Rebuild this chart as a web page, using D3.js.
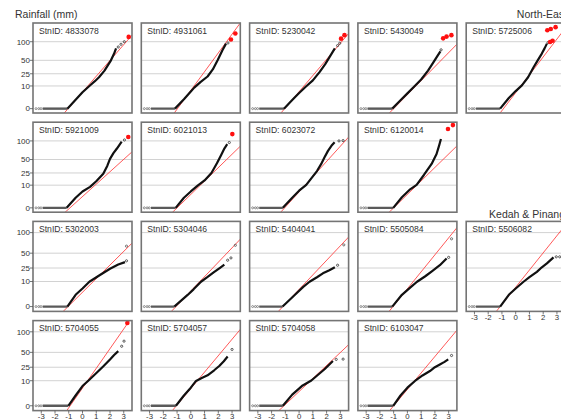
<!DOCTYPE html>
<html>
<head>
<meta charset="utf-8">
<script src="https://cdn.jsdelivr.net/npm/d3@7"></script>
<style>
body { margin: 0; background: #fff; }
text { font-family: "Liberation Sans", Arial, sans-serif; }
</style>
</head>
<body>
<svg id="chart" width="561" height="419"></svg>
<script>
// stations, one lattice per region
var neStations = ["4833078", "4931061", "5230042", "5430049", "5725006", "5921009", "6021013", "6023072", "6120014"];
var kpStations = ["5302003", "5304046", "5404041", "5505084", "5506082", "5704055", "5704057", "5704058", "6103047"];

var yTicks = [0, 10, 25, 50, 100];
var xTicks = [-3, -2, -1, 0, 1, 2, 3];

// theoretical quantile where the run of dry days (0 mm) stops
var neDryEnd = [-1.1, -1.15, -1.1, -1.1, -1.13, -1.15, -1.1, -1.18, -1.03];
var kpDryEnd = [-1.1, -1.2, -1.2, -1.1, -1.13, -1.03, -1.08, -1.18, -1.03];

// [theoretical quantile, rainfall mm]
var neQQ = [
  [[-1.1,0],[-0.6,0.9],[0,5],[0.5,10],[0.9,15],[1.2,20],[1.6,30],[2.07,50],[2.3,66],[2.44,80]],
  [[-1.15,0],[-0.5,1.5],[0,5.5],[0.25,8.5],[0.7,14],[1.22,21],[1.6,32],[1.95,50],[2.3,75],[2.56,94]],
  [[-1.1,0],[-0.5,1.3],[0,4.5],[0.5,9.5],[1.0,16],[1.5,28],[1.9,42],[2.3,62],[2.6,80]],
  [[-1.1,0],[-0.5,1.2],[0,4.3],[0.5,9.5],[1.0,17],[1.5,30],[1.9,46],[2.2,61],[2.4,72]],
  [[-1.13,0],[-0.5,2],[0,5.8],[0.45,10.6],[0.9,20],[1.3,36],[1.6,50],[1.9,66],[2.1,80],[2.27,94]],
  [[-1.15,0],[-0.5,1.8],[0,5],[0.55,8.5],[1.0,14],[1.51,23.8],[1.8,37],[2.0,51.6],[2.25,65],[2.49,76.7],[2.85,98]],
  [[-1.1,0],[-0.5,1.8],[0,5],[0.5,9.5],[1.0,15],[1.5,25],[1.9,42],[2.2,60],[2.45,78],[2.65,90]],
  [[-1.18,0],[-0.5,1.8],[0,5.5],[0.52,10.2],[1.0,20],[1.3,28],[1.61,40.8],[1.85,55],[2.1,71],[2.35,85],[2.58,96]],
  [[-1.03,0],[-0.4,2],[0.2,6.5],[0.67,10.2],[1.2,22],[1.76,40.8],[2.12,63],[2.3,85],[2.44,106]]
];
var kpQQ = [
  [[-1.1,0],[-0.5,2],[0,5],[0.5,9.8],[1.27,16.3],[2.0,24],[2.6,30],[3.09,33.8]],
  [[-1.2,0],[-0.23,1.95],[0.2,4.5],[0.74,9.8],[1.2,14],[1.71,20],[2.1,25],[2.44,30]],
  [[-1.2,0],[-0.3,2],[0.3,6],[0.76,9.8],[1.3,14],[1.73,18.2],[2.2,22],[2.6,26]],
  [[-1.1,0],[-0.4,2],[0.2,5.5],[0.7,9.8],[1.3,15],[1.8,21],[2.36,29],[2.85,40]],
  [[-1.13,0],[-0.5,2],[0,5],[0.57,9.8],[1.0,14],[1.54,20],[1.9,26],[2.27,31.8],[2.75,41.9]],
  [[-1.03,0],[-0.5,1.5],[0,6],[0.4,9.8],[1.03,18],[1.5,26],[2.0,37],[2.3,45],[2.6,52.6]],
  [[-1.08,0],[-0.5,1.5],[0,5],[0.38,9.8],[0.8,12.5],[1.22,15.2],[1.7,21],[2.07,26.7],[2.4,34],[2.68,42]],
  [[-1.18,0],[-0.5,1.8],[0.2,6],[0.89,10.2],[1.4,16],[1.85,22.3],[2.2,29],[2.46,34.4]],
  [[-1.03,0],[-0.5,1.5],[0,5],[0.55,9.8],[1.1,15],[1.64,20],[2.0,25],[2.36,29],[2.7,33],[2.97,37.2]]
];

// loose points at the upper end
var neTail = [[[2.6,84],[2.8,92],[3.04,100]], [[2.7,96]], [[2.8,88],[2.95,95]], [[2.45,76]], [[2.35,97]],
              [[3.05,103]], [[2.8,95]], [[2.9,100],[3.2,101]], []];
var kpTail = [[[3.2,36]], [[2.68,37],[2.92,41]], [[2.8,29]], [[3.0,42]], [[2.95,43],[3.2,43]],
              [[2.85,63],[3.02,75]], [[3.0,56]], [[2.7,37],[3.2,37.5]], [[3.21,44]]];
// small marks sitting on the reference line
var kpMark = [[3.2,65], [3.24,67], [3.25,68], [3.21,83], null, null, null, null, null];

// extremes in red
var neRed = [[[3.36,116]], [[2.92,107],[3.24,128]], [[3.05,110],[3.3,122]], [[2.6,111],[2.85,117],[3.2,122]],
             [[2.3,140],[2.55,145],[2.9,152],[2.5,99],[2.68,103]], [[3.33,113]], [[3.02,123]], [], [[2.95,142],[3.31,157]]];
var kpRed = [[], [], [], [], [], [[3.26,127]], [], [], []];

// reference line: [quantile at 0 mm, quantile at end, mm at end]
var neLine = [[-1.05,3.6,122], [-0.97,3.48,160], [-1.05,3.55,125], [-1.0,3.55,90], [-0.89,3.31,128],
              [-0.91,3.65,70], [-1.0,3.55,82], [-1.05,3.43,104], [-1.0,3.53,82]];
var kpLine = [[-1.05,3.6,72], [-1.08,3.48,77.6], [-1.18,3.4,80], [-1.05,3.33,101], [-1.13,3.31,106.6],
              [-0.9,3.3,127], [-1.05,3.4,97.5], [-1.1,3.48,63], [-1.0,3.45,97.5]];

var neYMax = 169, kpYMax = 135, yMin = -0.3;

var svg = d3.select("#chart");
var left0 = 33, top0 = 23, colStep = 108.3, rowStep = 99.2;
var pw = 99, ph = 90;
var clipId = 0;

var xScale = d3.scaleLinear().domain([-3.6, 3.6]).range([0, pw]);

function drawPanel(id, row, col, qq, tail, red, mark, line, dryEnd, yMax, showY, showX) {
  var yScale = d3.scalePow().exponent(0.47).domain([yMin, yMax]).range([ph, 0]);
  var g = svg.append("g")
    .attr("transform", "translate(" + (left0 + col * colStep) + "," + (top0 + row * rowStep) + ")");

  clipId++;
  g.append("clipPath").attr("id", "c" + clipId)
    .append("rect").attr("width", pw).attr("height", ph);

  g.append("rect").attr("width", pw).attr("height", ph).attr("fill", "#fff");

  g.selectAll(".grid")
    .data(yTicks.filter(function(d) { return d > 0; }))
    .enter().append("line")
    .attr("x1", 0).attr("x2", pw)
    .attr("y1", function(d) { return yScale(d); })
    .attr("y2", function(d) { return yScale(d); })
    .attr("stroke", "#d2d2d2").attr("stroke-width", 1);

  var plot = g.append("g").attr("clip-path", "url(#c" + clipId + ")");

  // reference line, stretched across the panel
  var p0 = [xScale(line[0]), yScale(0)];
  var p1 = [xScale(line[1]), yScale(line[2])];
  var dx = p1[0] - p0[0], dy = p1[1] - p0[1];
  plot.append("line")
    .attr("x1", p0[0] - 0.3 * dx).attr("y1", p0[1] - 0.3 * dy)
    .attr("x2", p0[0] + 1.5 * dx).attr("y2", p0[1] + 1.5 * dy)
    .attr("stroke", "#ff4646").attr("stroke-width", 0.9);

  // dry days
  plot.selectAll(".dry0")
    .data([-3.38, -3.18, -3.02])
    .enter().append("circle")
    .attr("cx", function(d) { return xScale(d); })
    .attr("cy", yScale(0))
    .attr("r", 1)
    .attr("fill", "none").attr("stroke", "#666").attr("stroke-width", 0.7);
  plot.append("line")
    .attr("x1", xScale(-2.9)).attr("x2", xScale(dryEnd))
    .attr("y1", yScale(0)).attr("y2", yScale(0))
    .attr("stroke", "#5a5a5a").attr("stroke-width", 2.4);

  plot.append("path")
    .datum(qq)
    .attr("d", d3.line()
      .x(function(d) { return xScale(d[0]); })
      .y(function(d) { return yScale(d[1]); }))
    .attr("fill", "none")
    .attr("stroke", "#111")
    .attr("stroke-width", 2.2)
    .attr("stroke-linejoin", "round");

  plot.selectAll(".tail")
    .data(tail)
    .enter().append("circle")
    .attr("cx", function(d) { return xScale(d[0]); })
    .attr("cy", function(d) { return yScale(d[1]); })
    .attr("r", 1.1)
    .attr("fill", "none").attr("stroke", "#333").attr("stroke-width", 0.8);

  if (mark) {
    plot.append("circle")
      .attr("cx", xScale(mark[0])).attr("cy", yScale(mark[1]))
      .attr("r", 1.1)
      .attr("fill", "none").attr("stroke", "#555").attr("stroke-width", 0.8);
  }

  plot.selectAll(".red")
    .data(red)
    .enter().append("circle")
    .attr("cx", function(d) { return xScale(d[0]); })
    .attr("cy", function(d) { return yScale(d[1]); })
    .attr("r", 2.3)
    .attr("fill", "#ff1010");

  g.append("rect").attr("width", pw).attr("height", ph)
    .attr("fill", "none").attr("stroke", "#747474").attr("stroke-width", 1.6);

  g.append("text")
    .attr("x", 6).attr("y", 10.5)
    .attr("font-size", 8.6)
    .attr("fill", "#333")
    .text("StnID: " + id);

  if (showY) {
    var yAxis = g.append("g");
    yAxis.selectAll("line")
      .data(yTicks).enter().append("line")
      .attr("x1", -3).attr("x2", 0)
      .attr("y1", function(d) { return yScale(d); })
      .attr("y2", function(d) { return yScale(d); })
      .attr("stroke", "#555").attr("stroke-width", 0.8);
    yAxis.selectAll("text")
      .data(yTicks).enter().append("text")
      .attr("x", -3).attr("y", function(d) { return yScale(d) + 2.8; })
      .attr("text-anchor", "end")
      .attr("font-size", 8)
      .attr("fill", "#333")
      .text(function(d) { return d; });
  }

  if (showX) {
    var xAxis = g.append("g").attr("transform", "translate(0," + ph + ")");
    xAxis.selectAll("line")
      .data(xTicks).enter().append("line")
      .attr("x1", function(d) { return xScale(d); })
      .attr("x2", function(d) { return xScale(d); })
      .attr("y1", 0).attr("y2", 3)
      .attr("stroke", "#555").attr("stroke-width", 0.8);
    xAxis.selectAll("text")
      .data(xTicks).enter().append("text")
      .attr("x", function(d) { return xScale(d); })
      .attr("y", 8.2)
      .attr("text-anchor", "middle")
      .attr("font-size", 7.8)
      .attr("fill", "#333")
      .text(function(d) { return d; });
  }
}

// North-East: five panels on the first row, four on the second
for (var i = 0; i < neStations.length; i++) {
  var r = i < 5 ? 0 : 1;
  var c = i < 5 ? i : i - 5;
  drawPanel(neStations[i], r, c, neQQ[i], neTail[i], neRed[i], null, neLine[i], neDryEnd[i], neYMax, c === 0, false);
}
// Kedah & Pinang
for (var j = 0; j < kpStations.length; j++) {
  var r2 = j < 5 ? 2 : 3;
  var c2 = j < 5 ? j : j - 5;
  drawPanel(kpStations[j], r2, c2, kpQQ[j], kpTail[j], kpRed[j], kpMark[j], kpLine[j], kpDryEnd[j], kpYMax, c2 === 0, r2 === 3 || c2 === 4);
}

svg.append("text").attr("x", 15).attr("y", 18)
  .attr("font-size", 10.5).attr("fill", "#333").text("Rainfall (mm)");
svg.append("text").attr("x", 567).attr("y", 18).attr("text-anchor", "end")
  .attr("font-size", 10.5).attr("fill", "#333").text("North-East");
svg.append("text").attr("x", 565).attr("y", 218).attr("text-anchor", "end")
  .attr("font-size", 10.5).attr("fill", "#333").text("Kedah & Pinang");
</script>
</body>
</html>
